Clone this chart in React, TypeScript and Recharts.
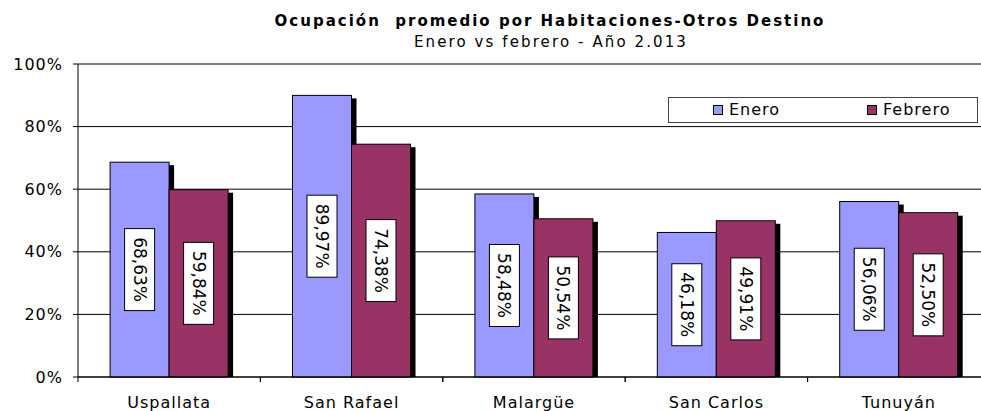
import { BarChart, Bar, XAxis, YAxis, CartesianGrid, LabelList } from "recharts";

const categories = ["Uspallata", "San Rafael", "Malargüe", "San Carlos", "Tunuyán"];
const enero = [68.63, 89.97, 58.48, 46.18, 56.06];
const febrero = [59.84, 74.38, 50.54, 49.91, 52.5];
const yTicks = [0, 20, 40, 60, 80, 100];

const data = categories.map((name, i) => ({ name, enero: enero[i], febrero: febrero[i] }));

const BLUE = "#9999FF";
const PLUM = "#993366";
const FONT = "'DejaVu Sans', Verdana, sans-serif";
const BAND = 912 / categories.length;

function ShadowBar(props: any) {
  const { x, y, width, height, fill } = props;
  if (!height || height <= 0) return null;
  return (
    <g>
      <rect x={x + 5} y={y + 3} width={width} height={height - 3} fill="#000" />
      <rect x={x} y={y} width={width} height={height} fill={fill} stroke="#000" strokeWidth={1} />
    </g>
  );
}

function ValueBox(props: any) {
  const { x, y, width, height, value } = props;
  const cx = x + width / 2;
  const cy = y + height / 2;
  const txt = Number(value).toFixed(2).replace(".", ",") + "%";
  return (
    <g transform={`rotate(90, ${cx}, ${cy})`}>
      <rect x={cx - 41} y={cy - 15} width={82} height={30} fill="#fff" stroke="#000" strokeWidth={1} />
      <text x={cx} y={cy + 6} textAnchor="middle" fontSize={17} fontFamily={FONT} fill="#000">
        {txt}
      </text>
    </g>
  );
}

function CatTick(props: any) {
  const { x, y, payload } = props;
  return (
    <g>
      <line x1={x - BAND / 2} y1={377} x2={x - BAND / 2} y2={382} stroke="#000" />
      <line x1={x + BAND / 2} y1={377} x2={x + BAND / 2} y2={382} stroke="#000" />
      <text x={x} y={y + 31} textAnchor="middle" fontSize={16} letterSpacing={1} fontFamily={FONT} fill="#000">
        {payload.value}
      </text>
    </g>
  );
}

function Swatch({ color }: { color: string }) {
  return (
    <span
      style={{
        display: "inline-block",
        width: 8,
        height: 8,
        background: color,
        border: "1px solid #000",
        marginRight: 6,
        verticalAlign: "middle",
        position: "relative",
        top: -1,
      }}
    />
  );
}

export default function App() {
  return (
    <div style={{ position: "absolute", left: 0, top: 0, width: 981, height: 411, overflow: "hidden", background: "#fff" }}>
      <div style={{ position: "absolute", left: 0, width: 1100, top: 12, lineHeight: "18px", textAlign: "center", fontFamily: FONT, fontWeight: "bold", fontSize: 15, letterSpacing: 2, whiteSpace: "pre" }}>
        {"Ocupación  promedio por Habitaciones-Otros Destino"}
      </div>
      <div style={{ position: "absolute", left: 0, width: 1102, top: 33, lineHeight: "18px", textAlign: "center", fontFamily: FONT, fontSize: 15, letterSpacing: 2.1 }}>
        Enero vs febrero - Año 2.013
      </div>
      <BarChart
        width={1000}
        height={411}
        data={data}
        margin={{ top: 64, right: 10, bottom: 0, left: 0 }}
        barCategoryGap="17.6%"
        barGap={0}
      >
        <CartesianGrid horizontal vertical={false} stroke="#000" />
        <XAxis
          dataKey="name"
          height={34}
          axisLine={{ stroke: "#000" }}
          tickLine={false}
          tickSize={0}
          tickMargin={0}
          tick={<CatTick />}
          interval={0}
        />
        <YAxis
          width={78}
          domain={[0, 100]}
          ticks={yTicks}
          tickFormatter={(v) => `${v}%`}
          axisLine={{ stroke: "#000" }}
          tickLine={{ stroke: "#000" }}
          tickSize={5}
          tickMargin={10}
          tick={{ fontSize: 16, fontFamily: FONT, fill: "#000", letterSpacing: 1 }}
        />
        <Bar dataKey="enero" fill={BLUE} shape={<ShadowBar />} isAnimationActive={false}>
          <LabelList dataKey="enero" content={<ValueBox />} />
        </Bar>
        <Bar dataKey="febrero" fill={PLUM} shape={<ShadowBar />} isAnimationActive={false}>
          <LabelList dataKey="febrero" content={<ValueBox />} />
        </Bar>
      </BarChart>
      <div
        style={{
          position: "absolute",
          left: 668,
          top: 97,
          width: 308,
          height: 24,
          border: "1px solid #444",
          background: "#fff",
          fontFamily: FONT,
          fontSize: 16,
          letterSpacing: 1,
          lineHeight: "24px",
        }}
      >
        <span style={{ position: "absolute", left: 44 }}>
          <Swatch color={BLUE} />
          Enero
        </span>
        <span style={{ position: "absolute", left: 198 }}>
          <Swatch color={PLUM} />
          Febrero
        </span>
      </div>
    </div>
  );
}
